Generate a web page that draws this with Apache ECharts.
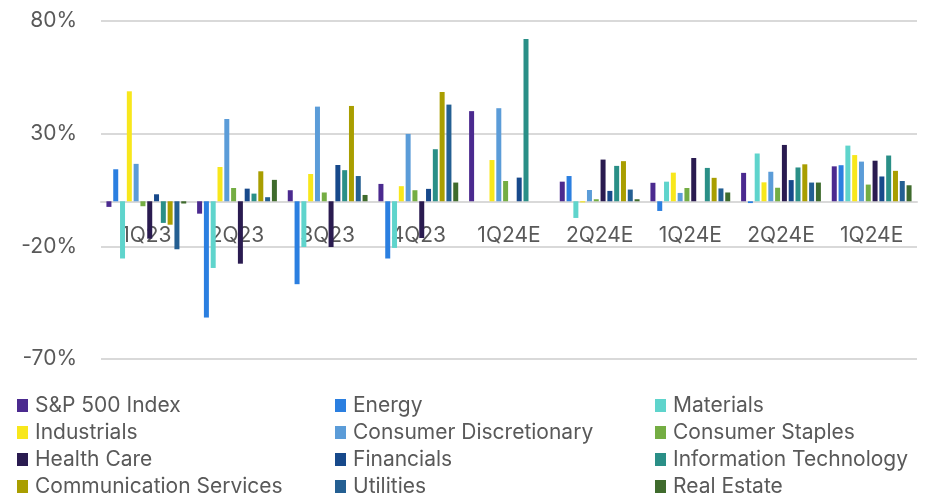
<!DOCTYPE html>
<html>
<head>
<meta charset="utf-8">
<title>Sector returns by quarter</title>
<script src="https://cdn.jsdelivr.net/npm/echarts@6/dist/echarts.min.js"></script>
<style>
  html, body { margin: 0; padding: 0; background: #ffffff; }
  #chart { width: 937px; height: 497px; }
</style>
</head>
<body>
<div id="chart"></div>
<script>
// Quarter labels along the category axis
const quarters = ['1Q23', '2Q23', '3Q23', '4Q23', '1Q24E', '2Q24E', '1Q24E', '2Q24E', '1Q24E'];

// Value-axis ticks (percent)
const yMin = -70;
const yMax = 80;
const yStep = 50;

// Returns per sector, in percent, one value per quarter (null = no bar)
const sp500         = [-2.5, -5.5,   4.9,   7.7, 40.0,  8.7,  8.2, 12.6, 15.5];
const energy        = [14.2, -51.6, -36.8, -25.4, null, 11.2, -4.3, -0.8, 16.0];
const materials     = [-25.4, -29.6, -20.3, -20.7, null, -7.4,  8.7, 21.2, 24.7];
const industrials   = [48.8, 15.2,  12.1,   6.7, 18.3, -0.5, 12.7,  8.4, 20.5];
const consumerDisc  = [16.6, 36.5,  42.0,  29.9, 41.3,  5.0,  3.7, 13.1, 17.6];
const consumerStap  = [-2.2,  5.9,   3.9,   4.9,  9.0,  0.9,  5.9,  6.0,  7.4];
const healthCare    = [-16.6, -27.7, -20.3, -16.3, null, 18.5, 19.2, 25.0, 18.0];
const financials    = [ 3.1,  5.6,  16.1,   5.5, 10.5,  4.6, null,  9.4, 11.0];
const infoTech      = [-9.6,  3.4,  13.8,  23.1, 72.0, 15.7, 14.8, 15.0, 20.3];
const commServices  = [-10.4, 13.3, 42.3,  48.5, null, 17.8, 10.4, 16.4, 13.5];
const utilities     = [-21.3,  1.8, 11.2,  42.9, null,  5.2,  5.7,  8.3,  9.0];
const realEstate    = [-1.0,  9.5,   2.8,   8.3, null,  0.9,  3.9,  8.3,  7.1];

const seriesNames = [
  'S&P 500 Index', 'Energy', 'Materials',
  'Industrials', 'Consumer Discretionary', 'Consumer Staples',
  'Health Care', 'Financials', 'Information Technology',
  'Communication Services', 'Utilities', 'Real Estate'
];
const seriesValues = [
  sp500, energy, materials,
  industrials, consumerDisc, consumerStap,
  healthCare, financials, infoTech,
  commServices, utilities, realEstate
];
const seriesColors = [
  '#4b2a8f', '#2b7fe0', '#5fd4cc',
  '#f8e71c', '#5b9cd8', '#74ad43',
  '#2a1b50', '#17498b', '#2a8f87',
  '#a99e00', '#245f92', '#3f6b2d'
];

const FONT = 'Inter, "Open Sans", sans-serif';
const TEXT = '#595959';
const GRID_LINE = '#d9d9d9';

// Plot box
const GRID_TOP = 21;
const GRID_BOTTOM = 138;
const CHART_H = 497;
const plotH = CHART_H - GRID_TOP - GRID_BOTTOM;
// Distance from the plot's bottom edge up to the zero line
const zeroFromBottom = plotH * (0 - yMin) / (yMax - yMin);

const chart = echarts.init(document.getElementById('chart'), null, { renderer: 'canvas' });

const series = seriesNames.map((name, i) => ({
  name: name,
  type: 'bar',
  xAxisIndex: 0,
  data: seriesValues[i],
  barWidth: 5,
  barGap: '36%',
  itemStyle: { color: seriesColors[i] },
  emphasis: { disabled: true }
}));

// Legend in three columns of four entries
function legendColumn(names, left) {
  return {
    data: names,
    orient: 'vertical',
    left: left,
    top: 395,
    padding: 0,
    itemWidth: 11,
    itemHeight: 13,
    itemGap: 6,
    icon: 'rect',
    selectedMode: false,
    textStyle: { fontFamily: FONT, fontSize: 21, color: TEXT, lineHeight: 21, padding: [0, 0, 0, 2] }
  };
}

const option = {
  animation: false,
  backgroundColor: '#ffffff',
  textStyle: { fontFamily: FONT },
  grid: { left: 101, right: 20, top: GRID_TOP, bottom: GRID_BOTTOM },
  xAxis: [
    {
      // baseline at zero, carries the bars
      type: 'category',
      data: quarters,
      axisLine: { onZero: true, lineStyle: { color: GRID_LINE, width: 2 } },
      axisTick: { show: false },
      axisLabel: { show: false },
      splitLine: { show: false }
    },
    {
      // quarter names just under the zero line
      type: 'category',
      data: quarters,
      position: 'bottom',
      offset: -zeroFromBottom,
      axisLine: { show: false, onZero: false },
      axisTick: { show: false },
      axisLabel: { fontFamily: FONT, fontSize: 21, color: TEXT, margin: 24, interval: 0 },
      splitLine: { show: false }
    }
  ],
  yAxis: {
    type: 'value',
    min: yMin,
    max: yMax,
    interval: yStep,
    axisLine: { show: false },
    axisTick: { show: false },
    axisLabel: { fontFamily: FONT, fontSize: 21, color: TEXT, margin: 24, formatter: '{value}%' },
    splitLine: { lineStyle: { color: GRID_LINE, width: 2 } }
  },
  legend: [
    legendColumn([seriesNames[0], seriesNames[3], seriesNames[6], seriesNames[9]], 17),
    legendColumn([seriesNames[1], seriesNames[4], seriesNames[7], seriesNames[10]], 335),
    legendColumn([seriesNames[2], seriesNames[5], seriesNames[8], seriesNames[11]], 655)
  ],
  series: series
};

chart.setOption(option);
</script>
</body>
</html>
